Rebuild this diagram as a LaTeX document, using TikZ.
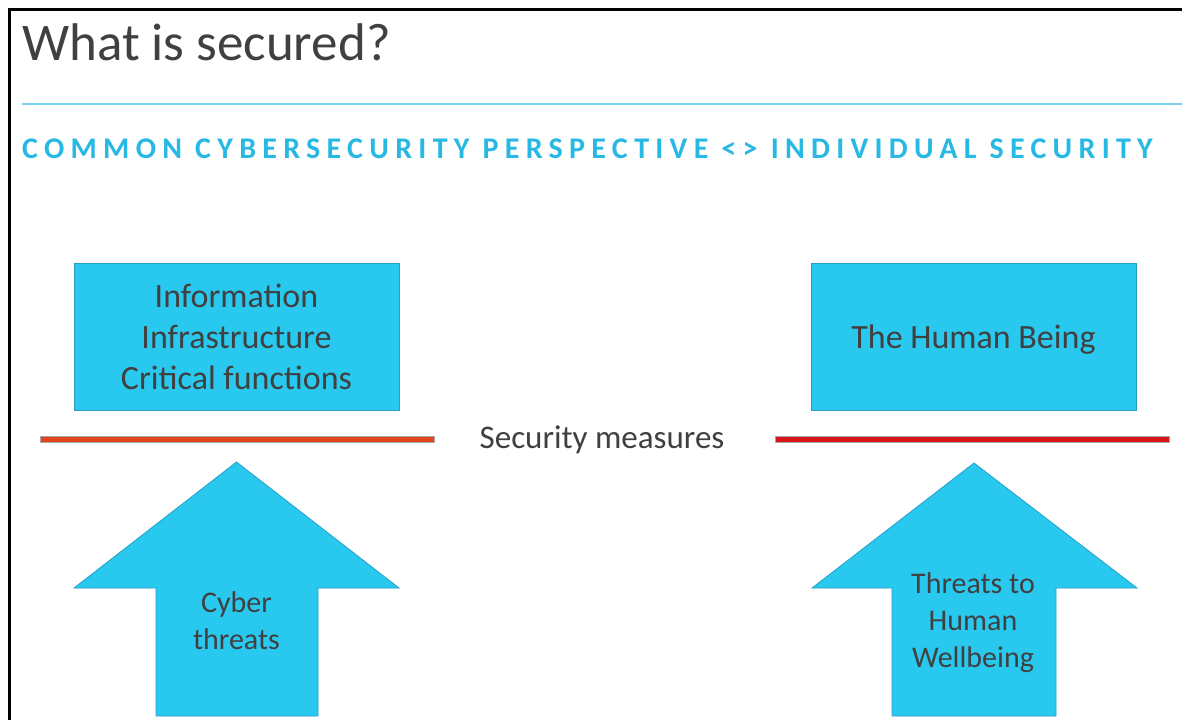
\documentclass[tikz,border=0pt]{standalone}
\usepackage{fontspec}
\setmainfont{Carlito}
\newfontfamily\subfont{Carlito}[LetterSpace=21]
\definecolor{boxcyan}{RGB}{41,200,238}
\definecolor{boxedge}{RGB}{38,160,200}
\definecolor{txtgray}{RGB}{64,64,64}
\definecolor{subcyan}{RGB}{40,184,228}
\definecolor{rulecyan}{RGB}{120,212,240}
\definecolor{redL}{RGB}{226,68,28}
\definecolor{redR}{RGB}{216,22,26}
\tikzset{
  cbox/.style={draw=boxedge, line width=0.8pt, fill=boxcyan, minimum width=325pt, minimum height=147pt, text=txtgray, align=center, font=\fontsize{34}{41}\selectfont, inner sep=0pt},
  arrowshape/.style={draw=boxedge, line width=0.8pt, fill=boxcyan},
  arrowtext/.style={text=txtgray, align=center, font=\fontsize{30}{37}\selectfont, inner sep=0pt},
  barL/.style={fill=redL, draw=gray!70, line width=0.6pt},
  barR/.style={fill=redR, draw=gray!70, line width=0.6pt},
}
\begin{document}
\begin{tikzpicture}[x=1pt, y=-1pt]
\useasboundingbox (0,0) rectangle (1182,720);
\fill[white] (0,0) rectangle (1182,720);
% frame
\draw[line width=2.7pt] (9.3,720) -- (9.3,9.5) -- (1182,9.5);
% title
\node[anchor=base west, inner sep=0pt, text=txtgray, font=\fontsize{53}{60}\selectfont] (title) at (22,60) {What is secured?};
% rule
\draw[rulecyan, line width=2pt] (22,104) -- (1182,104);
% subtitle
\node[anchor=base west, inner sep=0pt, text=subcyan, font=\subfont\bfseries\fontsize{30}{36}\selectfont] (sub) at (22,158) {COMMON CYBERSECURITY PERSPECTIVE <> INDIVIDUAL SECURITY};
% boxes
\node[cbox] (info) at (236.5,336.5) {Information\\Infrastructure\\Critical functions};
\node[cbox, text depth=0pt] (human) at (973.5,336.5) {The Human Being};
\path (human.center) ++(0,0) coordinate (hc);
% security measures
\node[text=txtgray, font=\fontsize{33}{40}\selectfont, inner sep=0pt] (meas) at (602,440) {Security measures};
\draw[barL] (40,436) rectangle (434,442);
\draw[barR] (775,436) rectangle (1169,442);
% arrows
\draw[arrowshape] (236.5,462) -- (399,588) -- (318,588) -- (318,716) -- (156,716) -- (156,588) -- (74,588) -- cycle;
\node[arrowtext] (cyber) at (236.5,621) {Cyber\\threats};
\draw[arrowshape] (974,463) -- (1137,588) -- (1056,588) -- (1056,716) -- (892,716) -- (892,588) -- (812,588) -- cycle;
\node[arrowtext] (thr) at (973,623) {Threats to\\Human\\Wellbeing};
\end{tikzpicture}
\end{document}
